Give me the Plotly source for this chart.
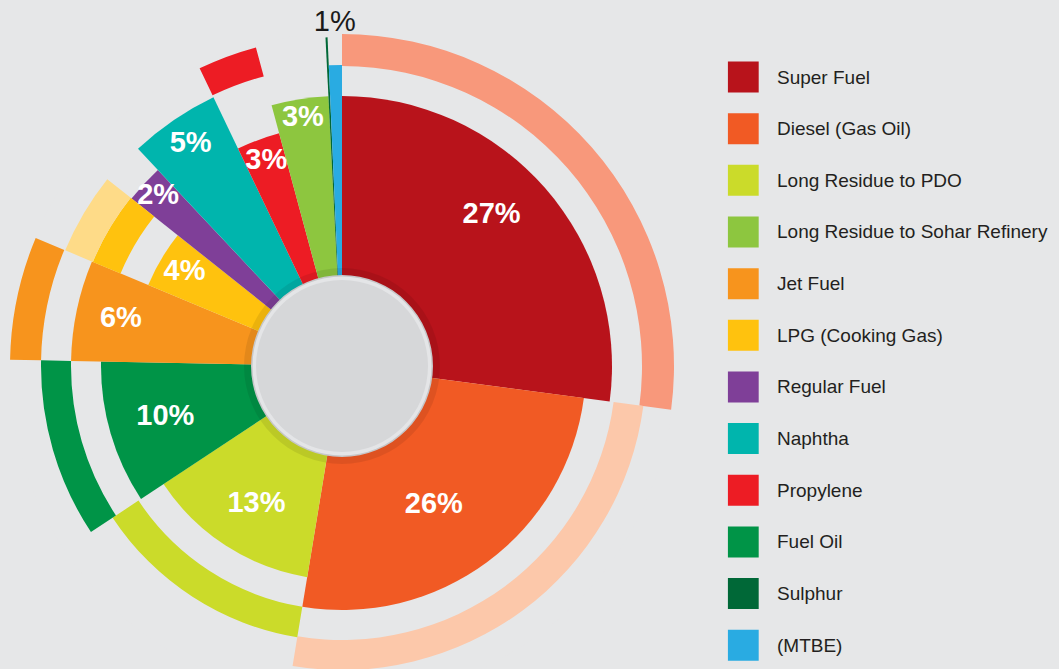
import plotly.graph_objects as go

# ---------------- data ----------------
categories = ["Super Fuel", "Diesel (Gas Oil)", "Long Residue to PDO",
              "Long Residue to Sohar Refinery", "Jet Fuel", "LPG (Cooking Gas)",
              "Regular Fuel", "Naphtha", "Propylene", "Fuel Oil", "Sulphur", "(MTBE)"]
# share of the full turn taken by each product (%)
share = [27.1, 25.5, 13.1, 3.4, 6.0, 4.4, 2.3, 4.9, 2.9, 9.6, 0.1, 0.7]
pct_labels = ["27%", "26%", "13%", "3%", "6%", "4%", "2%", "5%", "3%", "10%", "", "1%"]
# length of each petal (radial units)
petal_len = [270, 244, 214, 270, 271, 210, 269, 298, 241, 241, 329, 301]
# order of the petals clockwise from 12 o'clock
wheel_order = ["Super Fuel", "Diesel (Gas Oil)", "Long Residue to PDO", "Fuel Oil",
               "Jet Fuel", "LPG (Cooking Gas)", "Regular Fuel", "Naphtha", "Propylene",
               "Long Residue to Sohar Refinery", "Sulphur", "(MTBE)"]
# outer decorative arcs
arc_cat = ["Super Fuel", "Diesel (Gas Oil)", "Long Residue to PDO", "Fuel Oil",
           "Jet Fuel", "LPG (Cooking Gas)", "LPG (Cooking Gas)", "Propylene"]
arc_from = [300, 274, 244, 271, 301, 240, 270, 300]
arc_to = [332, 304, 275, 301, 332, 270, 300, 330]
hub_radius = 91

# ---------------- style ----------------
BG = "#e6e7e8"
colors = {
    "Super Fuel": "#b8131b", "Diesel (Gas Oil)": "#f15a24",
    "Long Residue to PDO": "#cbdb2a", "Long Residue to Sohar Refinery": "#8dc63f",
    "Jet Fuel": "#f7941d", "LPG (Cooking Gas)": "#ffc20e", "Regular Fuel": "#7f3f98",
    "Naphtha": "#00b5ad", "Propylene": "#ed1c24", "Fuel Oil": "#009447",
    "Sulphur": "#006837", "(MTBE)": "#29abe2",
}
arc_colors = ["#f8987b", "#fcc8aa", "#cbdb2a", "#009447", "#f7941d",
              "#ffc20e", "#fedb88", "#ed1c24"]
# label placement: depth inside the petal end, small angular nudge
label_depth = {"Super Fuel": 58, "Diesel (Gas Oil)": 77, "Long Residue to PDO": 51,
               "Fuel Oil": 57, "Jet Fuel": 45, "LPG (Cooking Gas)": 27,
               "Regular Fuel": 19, "Naphtha": 30, "Propylene": 23,
               "Long Residue to Sohar Refinery": 20, "(MTBE)": -27}
label_nudge = {"Super Fuel": -3.9, "Diesel (Gas Oil)": 3.2, "Long Residue to PDO": -1.3}
FONT = "Liberation Sans, Arial, Helvetica, sans-serif"

idx = {c: i for i, c in enumerate(categories)}

# angular geometry from shares
start = {}
acc = 0.0
for c in wheel_order:
    start[c] = acc * 3.6
    acc += share[idx[c]]
width_deg = {c: share[idx[c]] * 3.6 for c in categories}
mid_deg = {c: start[c] + width_deg[c] / 2 for c in categories}

fig = go.Figure()

# petals
fig.add_trace(go.Barpolar(
    theta=[mid_deg[c] for c in wheel_order],
    width=[width_deg[c] for c in wheel_order],
    r=[petal_len[idx[c]] for c in wheel_order],
    base=[0] * len(wheel_order),
    marker=dict(color=[colors[c] for c in wheel_order], line=dict(width=0)),
    hoverinfo="skip", showlegend=False,
))

# outer arcs
fig.add_trace(go.Barpolar(
    theta=[mid_deg[c] for c in arc_cat],
    width=[width_deg[c] for c in arc_cat],
    r=[t - f for f, t in zip(arc_from, arc_to)],
    base=arc_from,
    marker=dict(color=arc_colors, line=dict(width=0)),
    hoverinfo="skip", showlegend=False,
))

# hub shadow and hub disc
fig.add_trace(go.Barpolar(theta=[180], width=[360], r=[8], base=[hub_radius - 1],
                          marker=dict(color="rgba(0,0,0,0.08)", line=dict(width=0)),
                          hoverinfo="skip", showlegend=False))
for rr, col in [(hub_radius, "#c6c7c9"), (hub_radius - 1.5, "#e4e5e7"), (hub_radius - 5, "#d6d7d9")]:
    fig.add_trace(go.Barpolar(theta=[180], width=[360], r=[rr], base=[0],
                              marker=dict(color=col, line=dict(width=0)),
                              hoverinfo="skip", showlegend=False))

# percentage labels
inside = [c for c in wheel_order if c in label_depth and c != "(MTBE)"]
fig.add_trace(go.Scatterpolar(
    r=[petal_len[idx[c]] - label_depth[c] for c in inside],
    theta=[mid_deg[c] + label_nudge.get(c, 0) for c in inside],
    text=[pct_labels[idx[c]] for c in inside],
    mode="text", textposition="middle center",
    textfont=dict(family=FONT, size=29, color="white", weight="bold"),
    cliponaxis=False, hoverinfo="skip", showlegend=False,
))
c = "(MTBE)"
fig.add_trace(go.Scatterpolar(
    r=[petal_len[idx[c]] - label_depth[c]],
    theta=[mid_deg[c]],
    text=[pct_labels[idx[c]]],
    mode="text", textposition="top center",
    textfont=dict(family=FONT, size=29, color="#1a1a1a"),
    cliponaxis=False, hoverinfo="skip", showlegend=False,
))

# legend drawn on a cartesian strip
rows = list(range(len(categories)))
fig.add_trace(go.Bar(
    orientation="h", x=[31] * len(categories), y=rows, base=0, width=0.6,
    marker=dict(color=[colors[c] for c in categories], line=dict(width=0)),
    xaxis="x", yaxis="y", hoverinfo="skip", showlegend=False,
))
for i, c in enumerate(categories):
    fig.add_annotation(x=47, y=i, xref="x", yref="y", text=c, showarrow=False,
                       xanchor="left", yanchor="middle",
                       font=dict(family=FONT, size=19, color="#231f20"))

# The visible window is 1059x669; the figure is a little taller so the
# outer arcs at the bottom run off the window as in the reference.
W, H_VIEW, H = 1059, 669, 700
cx, cy, R = 342, 366, 333
row0, row_step = 77, 51.66
fig.update_layout(
    width=W, height=H, margin=dict(l=0, r=0, t=0, b=0),
    paper_bgcolor=BG, plot_bgcolor=BG, showlegend=False,
    polar=dict(
        domain=dict(x=[(cx - R) / W, (cx + R) / W], y=[(H - cy - R) / H, (H - cy + R) / H]),
        bgcolor=BG, hole=0,
        radialaxis=dict(range=[0, R], visible=False, showgrid=False),
        angularaxis=dict(rotation=90, direction="clockwise", visible=False, showgrid=False),
    ),
    xaxis=dict(domain=[727.7 / W, 1], range=[0, W - 727.7], visible=False, fixedrange=True),
    yaxis=dict(domain=[(H - H_VIEW) / H, 1],
               range=[(H_VIEW - row0) / row_step, -row0 / row_step],
               visible=False, fixedrange=True),
)

fig.write_html(
    "out.html",
    config={"displayModeBar": False},
    post_script=("document.documentElement.style.overflow='hidden';"
                 "document.body.style.overflow='hidden';"
                 "document.body.style.margin='0px';"
                 f"document.body.style.background='{BG}';"),
)
